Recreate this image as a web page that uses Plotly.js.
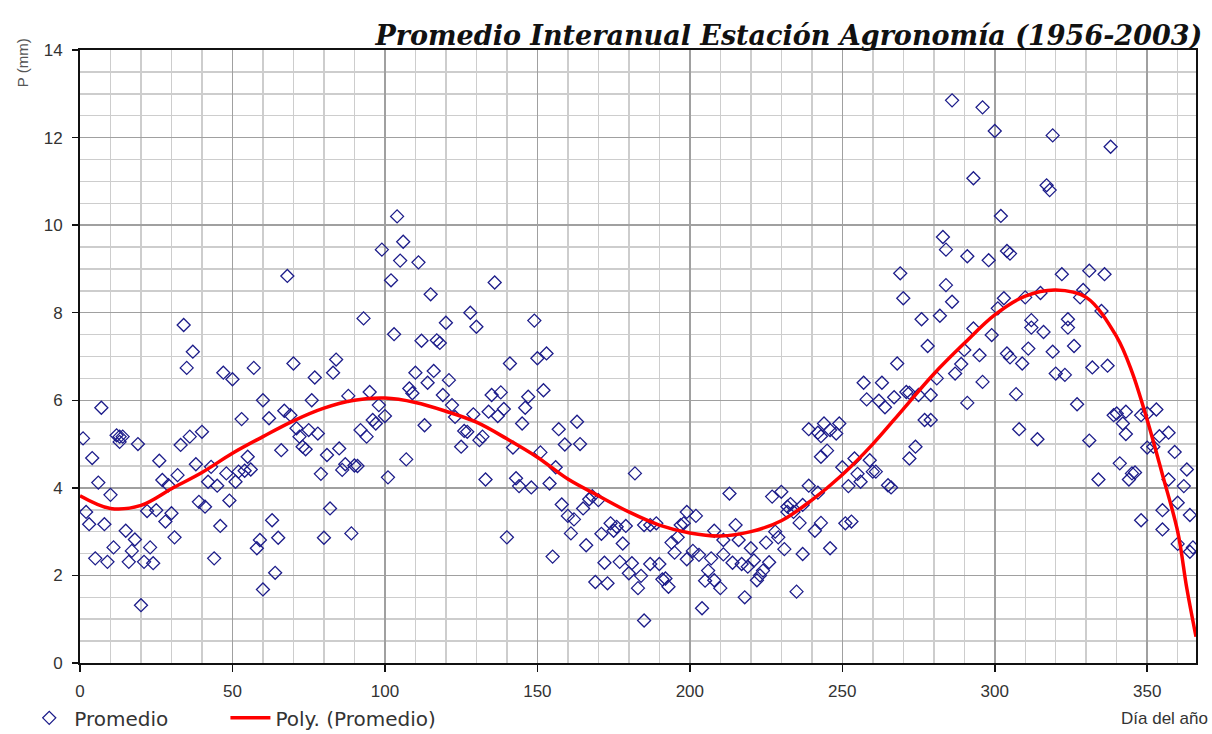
<!DOCTYPE html>
<html>
<head>
<meta charset="utf-8">
<script src="https://cdn.plot.ly/plotly-3.0.1.min.js"></script>
<style>
  html, body { margin: 0; padding: 0; background: #ffffff; }
  #chart { width: 1212px; height: 734px; }
</style>
</head>
<body>
<div id="chart"></div>
<script>
// Día del año (x) for each daily mean point
const dias = [
  1,2,3,4,5,6,7,8,9,10,11,12,13,13,14,15,16,17,18,19,20,21,22,23,24,25,26,27,28,29,30,
  31,32,33,34,35,36,37,38,39,40,41,42,43,44,45,46,47,48,49,50,51,52,53,54,55,56,57,58,59,60,60,
  62,63,64,65,66,67,68,69,70,71,72,73,74,75,76,77,78,79,80,81,82,83,84,85,86,87,88,89,90,
  91,92,93,94,95,96,97,98,99,100,101,102,103,104,105,106,107,108,109,110,111,112,113,114,115,
  116,117,118,119,120,121,122,123,
  125,126,127,128,129,130,131,132,133,134,135,136,137,138,139,140,141,142,143,144,145,146,147,
  148,149,150,151,152,153,154,155,156,157,158,159,160,161,162,163,164,165,166,167,168,169,170,
  171,172,173,174,175,176,177,178,179,180,181,182,183,184,185,185,187,187,189,190,191,192,193,
  194,195,196,197,198,199,199,201,202,203,204,205,206,207,208,208,210,211,211,213,214,215,216,
  217,218,219,220,221,222,223,224,225,226,227,228,229,230,231,232,232,233,234,235,236,237,237,
  239,239,241,242,242,243,243,243,244,245,246,246,248,249,250,251,252,253,254,255,256,257,258,
  259,260,261,262,263,264,265,266,267,268,269,270,271,272,272,274,275,276,277,278,279,279,281,
  282,283,284,284,286,286,287,289,290,291,291,293,293,295,296,296,298,299,300,301,302,303,304,
  304,305,305,307,308,309,310,311,312,312,314,315,316,317,318,319,319,320,322,323,324,324,326,
  327,328,329,331,331,332,334,335,336,337,338,339,340,341,342,343,343,344,345,346,348,348,350,
  350,352,353,354,355,355,357,357,359,360,360,362,363,364,364,365
];
// Promedio (mm) for each point above
const promedio = [
  5.13,3.45,3.17,4.68,2.39,4.12,5.83,3.17,2.31,3.84,2.64,5.20,5.05,5.17,5.17,3.02,2.31,2.56,2.82,5.00,1.32,2.31,3.47,2.64,2.28,3.49,4.62,4.18,3.23,4.06,3.42,
  2.87,4.29,4.98,7.72,6.74,5.17,7.11,4.54,3.68,5.28,3.57,4.14,4.48,2.39,4.05,3.13,6.63,4.33,3.71,6.48,4.14,4.37,5.57,4.39,4.71,4.42,6.74,2.62,2.81,1.68,6.00,
  5.59,3.26,2.06,2.86,4.86,5.76,8.84,5.66,6.84,5.36,5.17,4.94,4.88,5.32,6.00,6.52,5.24,4.32,2.86,4.75,3.53,6.63,6.93,4.90,4.41,4.54,6.10,2.96,4.51,
  4.50,5.32,7.87,5.17,6.19,5.55,5.47,5.89,9.44,5.64,4.24,8.74,7.51,10.20,9.19,9.62,4.65,6.27,6.16,6.63,9.15,7.36,5.43,6.40,8.42,
  6.67,7.37,7.31,6.12,7.77,6.46,5.89,5.62,
  4.94,5.30,5.28,8.00,5.68,7.68,5.09,5.17,4.19,5.74,6.12,8.69,5.64,6.18,5.80,2.87,6.84,4.92,4.22,4.04,5.47,5.83,6.08,
  4.01,7.82,6.96,4.81,6.23,7.07,4.10,2.43,4.47,5.34,3.62,4.99,3.36,2.96,3.28,5.51,5.00,3.53,2.69,3.74,3.81,1.85,3.72,
  2.95,2.29,1.82,3.19,3.02,3.11,2.31,2.73,3.13,2.05,2.28,4.33,1.71,1.99,0.97,3.15,3.15,2.26,3.19,2.26,1.91,1.93,1.74,
  2.75,2.52,2.87,3.15,3.19,3.45,2.37,2.56,3.36,2.47,1.25,1.88,2.11,2.39,3.02,1.89,1.71,2.48,2.81,3.87,2.29,3.15,2.81,
  2.26,1.50,2.20,2.62,2.34,1.89,2.00,2.11,2.75,2.30,3.80,3.00,2.87,3.91,2.60,3.57,3.45,3.63,3.45,1.63,3.20,3.61,2.49,
  4.05,5.34,3.02,3.89,5.26,5.18,4.71,3.20,5.47,4.85,5.32,2.62,5.24,5.47,4.47,3.19,4.04,3.23,4.67,4.32,4.14,6.40,6.02,
  4.63,4.37,4.37,5.99,6.40,5.84,4.06,4.01,6.07,6.84,8.90,8.33,6.19,6.17,4.67,4.94,6.12,7.85,5.55,7.24,5.55,6.12,6.50,
  7.93,9.73,8.63,9.44,12.85,8.25,6.61,6.83,7.15,5.94,9.29,11.07,7.64,7.03,6.42,12.69,9.20,7.49,12.15,8.10,10.21,8.33,9.41,
  7.07,9.35,6.98,6.14,5.34,6.84,8.35,7.18,7.66,7.83,5.11,8.45,7.56,10.91,10.80,12.05,7.11,6.61,8.88,6.58,7.66,7.85,7.24,
  5.91,8.35,8.52,8.96,5.08,6.75,4.19,8.04,8.88,6.79,11.79,5.66,5.70,4.56,5.47,5.74,5.23,4.19,4.33,4.35,5.66,3.26,5.70,
  4.92,4.94,5.79,5.18,3.05,3.49,4.19,5.26,4.82,2.72,3.66,4.04,4.42,2.54,3.38,2.64
];
// Polynomial trendline
const polyDias = [0,10,20,30,40,50,60,70,80,90,100,110,120,130,140,150,160,170,180,190,200,210,220,230,240,250,260,270,280,290,300,310,320,330,340,345,350,355,360,363,366];
const polyValores = [3.82,3.53,3.60,3.98,4.35,4.79,5.17,5.53,5.82,6.00,6.05,5.95,5.75,5.50,5.12,4.70,4.20,3.82,3.45,3.15,2.97,2.90,3.00,3.25,3.72,4.30,5.00,5.80,6.60,7.30,7.95,8.38,8.52,8.35,7.45,6.65,5.55,4.30,3.00,1.70,0.60];

const tituloGrafico = 'Promedio Interanual Estación Agronomía (1956-2003)';
const tituloY = 'P (mm)';
const tituloX = 'Día del año';
const nombreSerie = 'Promedio';
const nombreTendencia = 'Poly. (Promedio)';

const fontBase = 'Liberation Sans, Arial, sans-serif';
const legendFont = { family: 'DejaVu Sans, sans-serif', size: 20, color: '#333333' };

const traces = [
  {
    type: 'scatter', mode: 'markers', name: nombreSerie,
    x: dias, y: promedio, legend: 'legend',
    marker: { symbol: 'diamond-open', size: 10, color: '#1c1c8a', line: { width: 1.3, color: '#1c1c8a' } },
    cliponaxis: true
  },
  {
    type: 'scatter', mode: 'lines', name: nombreTendencia,
    x: polyDias, y: polyValores, legend: 'legend2',
    line: { color: '#ff0000', width: 3.5, shape: 'spline', smoothing: 1 }
  }
];

const layout = {
  width: 1212, height: 734,
  margin: { l: 80, r: 16, t: 50, b: 71 },
  paper_bgcolor: '#ffffff', plot_bgcolor: '#ffffff',
  font: { family: fontBase, color: '#333333', size: 17 },
  title: {
    text: '<b><i>' + tituloGrafico + '</i></b>',
    font: { family: 'DejaVu Serif, serif', size: 27, color: '#111111' },
    xref: 'container', x: 0.992, xanchor: 'right',
    yref: 'container', y: 0.952, yanchor: 'middle'
  },
  xaxis: {
    range: [0, 366], dtick: 50, tick0: 0,
    showgrid: true, gridcolor: '#a0a0a0', gridwidth: 1.5,
    minor: { dtick: 10, showgrid: true, gridcolor: '#cdcdcd', gridwidth: 1.5, ticks: '' },
    showline: true, linecolor: '#111111', linewidth: 2, mirror: true,
    ticks: 'outside', ticklen: 7, tickwidth: 1.5, tickcolor: '#111111',
    ticklabelstandoff: 5,
    zeroline: false,
    tickfont: { family: fontBase, size: 17, color: '#333333' }
  },
  yaxis: {
    range: [0, 14], dtick: 2, tick0: 0,
    showgrid: true, gridcolor: '#a0a0a0', gridwidth: 1.5,
    minor: { dtick: 0.5, showgrid: true, gridcolor: '#cdcdcd', gridwidth: 1.5, ticks: '' },
    showline: true, linecolor: '#111111', linewidth: 2, mirror: true,
    ticks: 'outside', ticklen: 6, tickwidth: 1.5, tickcolor: '#111111',
    ticklabelstandoff: 6,
    zeroline: false,
    tickfont: { family: fontBase, size: 17, color: '#333333' }
  },
  showlegend: true,
  legend: {
    orientation: 'h',
    xref: 'container', yref: 'container',
    x: 0.02, y: 0.022, xanchor: 'left', yanchor: 'middle',
    font: legendFont, itemwidth: 40,
    bgcolor: 'rgba(0,0,0,0)'
  },
  legend2: {
    orientation: 'h',
    xref: 'container', yref: 'container',
    x: 0.186, y: 0.022, xanchor: 'left', yanchor: 'middle',
    font: legendFont, itemwidth: 40,
    bgcolor: 'rgba(0,0,0,0)'
  },
  annotations: [
    {
      text: tituloY, xref: 'paper', yref: 'paper',
      x: -0.052, y: 0.98, xanchor: 'center', yanchor: 'middle',
      textangle: -90, showarrow: false,
      font: { family: fontBase, size: 15, color: '#555555' }
    },
    {
      text: tituloX, xref: 'paper', yref: 'paper',
      x: 1.0125, y: -0.09, xanchor: 'right', yanchor: 'middle',
      showarrow: false,
      font: { family: fontBase, size: 17, color: '#333333' }
    }
  ]
};

Plotly.newPlot('chart', traces, layout, { displayModeBar: false, staticPlot: true });
</script>
</body>
</html>
